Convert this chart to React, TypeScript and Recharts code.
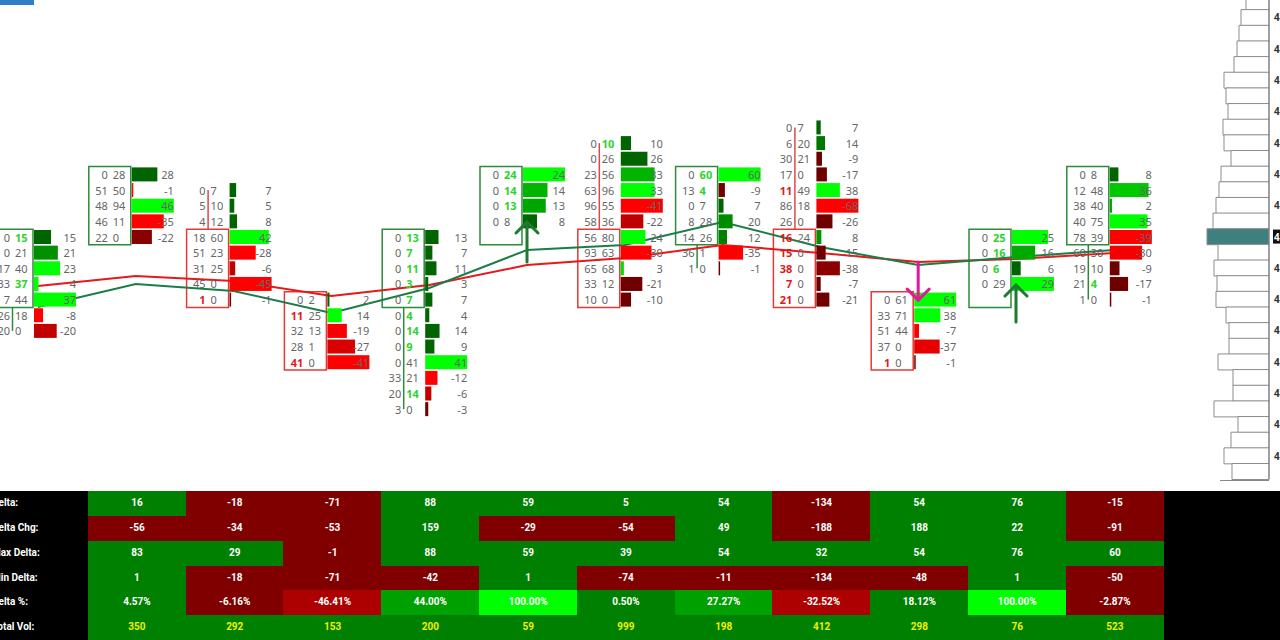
import React from 'react';
import {
  ComposedChart, Line, Scatter, XAxis, YAxis, ReferenceArea, ReferenceLine,
  BarChart, Bar, Cell,
} from 'recharts';

// ---- footprint clusters (one entry per bar, rows listed top to bottom) ----
const clusterTop = [0, -4, -3, 4, 0, -4, -6, -4, -7, 4, 0, -4];
const clusterBids = [
  [0, 0, 17, 33, 7, 26, 20],
  [0, 51, 48, 46, 22],
  [0, 5, 4, 18, 51, 31, 45, 1],
  [0, 11, 32, 28, 41],
  [0, 0, 0, 0, 0, 0, 0, 0, 0, 33, 20, 3],
  [0, 0, 0, 0],
  [0, 0, 23, 63, 96, 58, 56, 93, 65, 33, 10],
  [0, 13, 0, 8, 14, 36, 1],
  [0, 6, 30, 17, 11, 86, 26, 16, 15, 38, 7, 21],
  [0, 33, 51, 37, 1],
  [0, 0, 0, 0],
  [0, 12, 38, 40, 78, 60, 19, 21, 1],
];
const clusterAsks = [
  [15, 21, 40, 37, 44, 18, 0],
  [28, 50, 94, 11, 0],
  [7, 10, 12, 60, 23, 25, 0, 0],
  [2, 25, 13, 1, 0],
  [13, 7, 11, 3, 7, 4, 14, 9, 41, 21, 14, 0],
  [24, 14, 13, 8],
  [10, 26, 56, 96, 55, 36, 80, 63, 68, 12, 0],
  [60, 4, 7, 28, 26, 1, 0],
  [7, 20, 21, 0, 49, 18, 0, 24, 0, 0, 0, 0],
  [61, 71, 44, 0, 0],
  [25, 16, 6, 29],
  [8, 48, 40, 75, 39, 30, 10, 4, 0],
];
// g = ask imbalance, r = bid imbalance
const clusterMarks = [
  'g..g...', '.....', '.......r', '.r..r', 'gggggggg..g.', 'ggg.',
  'g..........', 'gg.....', '....r..rrrrr', '....r', 'ggg.', '.......g.',
];
const boxTop = [0, -4, 0, 4, 0, -4, 0, -4, 0, 4, 0, -4];
const boxUp = [true, true, false, false, true, true, false, true, false, false, true, true];
const wickEnd = [6, null, -3, null, 11, null, -6, 2, -7, null, null, 4];

// ---- overlay lines (price level units) ----
const greenLine = [4.47, 3.0, 3.45, 4.86, 3.26, 0.83, 0.51, -0.96, 0.64, 1.79, 1.28, 0.83];
const redLine = [3.13, 2.49, 2.81, 3.77, 3.07, 1.79, 1.34, 0.51, 1.02, 1.6, 1.41, 1.02];

// ---- signal arrows ----
const arrowCols = [5, 9, 10];
const arrowTip = [-0.96, 4.03, 3.07];
const arrowTail = [1.6, 1.6, 5.43];
const arrowColors = ['#1d7a2e', '#e4189a', '#1d7a2e'];

// ---- volume profile (L-15 .. L15) ----
const profileLevels = [-15, -14, -13, -12, -11, -10, -9, -8, -7, -6, -5, -4, -3, -2, -1, 0,
  1, 2, 3, 4, 5, 6, 7, 8, 9, 10, 11, 12, 13, 14, 15];
const profileVol = [23, 28, 30, 32, 35, 45, 43, 41, 46, 45, 38, 48, 50, 53, 56, 62,
  51, 55, 52, 53, 43, 40, 40, 51, 36, 36, 55, 31, 38, 45, 37];
const priceLabels = ['4216.50', '4216.00', '4215.50', '4215.00', '4214.50', '4214.00', '4213.50',
  '4213.00', '4212.50', '4212.00', '4211.50', '4211.00', '4210.50', '4210.00', '4209.50'];

// ---- stats table ----
const tableLabels = ['Delta:', 'Delta Chg:', 'Max Delta:', 'Min Delta:', 'Delta %:', 'Total Vol:'];
const deltaRow = [16, -18, -71, 88, 59, 5, 54, -134, 54, 76, -15];
const deltaChgRow = [-56, -34, -53, 159, -29, -54, 49, -188, 188, 22, -91];
const maxDeltaRow = [83, 29, -1, 88, 59, 39, 54, 32, 54, 76, 60];
const minDeltaRow = [1, -18, -71, -42, 1, -74, -11, -134, -48, 1, -50];
const deltaPctRow = [4.57, -6.16, -46.41, 44.0, 100.0, 0.5, 27.27, -32.52, 18.12, 100.0, -2.87];
const totalVolRow = [350, 292, 153, 200, 59, 999, 198, 412, 298, 76, 523];

// layout
const CW = 1280, CH = 490;
const COL_W = 97.8, COL0_PX = 38, ROW_PX = 15.65, L0_PX = 237;
const X_MIN = -COL0_PX / COL_W, X_MAX = X_MIN + CW / COL_W;
const Y_MIN = -L0_PX / ROW_PX, Y_MAX = Y_MIN + CH / ROW_PX;
const colPx = (c: number) => ((c - X_MIN) / (X_MAX - X_MIN)) * CW;
const FONT = '"Noto Sans", "Open Sans", Arial, sans-serif';

const cellData = clusterBids.flatMap((bids, c) => {
  const asks = clusterAsks[c];
  const maxD = Math.max(...bids.map((b, i) => Math.abs(asks[i] - b)));
  const maxBid = Math.max(...bids);
  const maxAsk = Math.max(...asks);
  return bids.map((bid, i) => {
    const ask = asks[i];
    const delta = ask - bid;
    return {
      x: c, y: clusterTop[c] + i, bid, ask, delta,
      frac: Math.abs(delta) / maxD,
      side: delta >= 0 ? ask / maxAsk : bid / maxBid,
      mark: clusterMarks[c][i],
    };
  });
});

const lineData = greenLine.map((g, i) => ({ x: i, green: g, red: redLine[i] }));
const arrowData = arrowCols.map((c, i) => ({ x: c, y: arrowTip[i], tail: arrowTail[i], color: arrowColors[i] }));
const profileData = profileLevels.map((lvl, i) => ({ lvl, vol: profileVol[i] }));

const FootCell = (props: any) => {
  const { cx, cy, payload } = props;
  if (cx == null || cy == null) return <g />;
  const { bid, ask, delta, frac, side, mark } = payload;
  const k = Math.max(0, Math.min(1, (side - 0.35) / 0.45));
  const fill = delta >= 0
    ? `rgb(0,${Math.round(100 + 155 * k)},0)`
    : `rgb(${Math.round(110 + 145 * k)},0,0)`;
  const w = Math.max(frac * 42, 1.5);
  return (
    <g fontFamily={FONT} fontSize={11}>
      <text x={cx - 28} y={cy} textAnchor="end" dominantBaseline="central"
        fill={mark === 'r' ? '#e01a1a' : '#666'} fontWeight={mark === 'r' ? 700 : 400}>{bid}</text>
      <text x={cx - 23} y={cy} textAnchor="start" dominantBaseline="central"
        fill={mark === 'g' ? '#2bd42b' : '#666'} fontWeight={mark === 'g' ? 700 : 400}>{ask}</text>
      <rect x={cx - 4} y={cy - 7} width={w} height={14} fill={fill} />
      <text x={cx + 38} y={cy} textAnchor="end" dominantBaseline="central" fill="#666">{delta}</text>
    </g>
  );
};

const ArrowMark = (props: any) => {
  const { cx, cy, payload } = props;
  if (cx == null || cy == null) return <g />;
  const ty = cy + (payload.tail - payload.y) * ROW_PX;
  const dir = ty > cy ? 1 : -1;
  return (
    <g stroke={payload.color} strokeWidth={3} fill="none" strokeLinecap="round">
      <line x1={cx} y1={cy} x2={cx} y2={ty} />
      <polyline points={`${cx - 11},${cy + dir * 11} ${cx},${cy} ${cx + 11},${cy + dir * 11}`} />
    </g>
  );
};

const PriceTick = (props: any) => {
  const { x, y, payload } = props;
  const lvl = payload.value;
  if (lvl % 2 !== 0) return <g />;
  const label = priceLabels[(lvl + 14) / 2];
  if (lvl === 0) {
    return (
      <g>
        <rect x={x + 2} y={y - 7} width={40} height={14} fill="#111" />
        <text x={x + 3} y={y} dominantBaseline="central" fontSize={10} fontWeight={700}
          fill="#fff" fontFamily={FONT}>{label}</text>
      </g>
    );
  }
  return (
    <text x={x + 3} y={y} dominantBaseline="central" fontSize={10} fontWeight={700}
      fill="#333" fontFamily={FONT}>{label}</text>
  );
};

const cellColor = (v: number, row: number) => {
  if (row === 4) {
    if (v >= 100) return '#00ff00';
    if (v >= 25) return '#00a000';
    if (v >= 0) return '#008000';
    if (v <= -25) return '#ad0000';
    return '#800000';
  }
  return v >= 0 ? '#008000' : '#800000';
};

const StatsTable = () => {
  const rows = [deltaRow, deltaChgRow, maxDeltaRow, minDeltaRow, deltaPctRow, totalVolRow];
  const rh = (640 - 491) / 6;
  return (
    <div style={{ position: 'absolute', left: 0, top: 491, width: CW, height: 149, background: '#000',
      fontFamily: '"Liberation Sans Narrow", Roboto, Arial, sans-serif', fontSize: 10, fontWeight: 700 }}>
      {rows.map((vals, r) => (
        <React.Fragment key={r}>
          <div style={{ position: 'absolute', left: -8, top: r * rh, height: rh, lineHeight: `${rh}px`,
            color: '#fff', whiteSpace: 'nowrap' }}>{tableLabels[r]}</div>
          {vals.map((v, i) => {
            const left = colPx(i + 1) - 48;
            return (
              <div key={i} style={{ position: 'absolute', left, top: r * rh, width: COL_W + 0.5, height: rh + 0.5,
                lineHeight: `${rh}px`, textAlign: 'center', background: cellColor(v, r),
                color: r === 5 ? '#f0f000' : '#fff' }}>
                {r === 4 ? `${v.toFixed(2)}%` : v}
              </div>
            );
          })}
        </React.Fragment>
      ))}
    </div>
  );
};

export default function App() {
  return (
    <div style={{ position: 'absolute', left: 0, top: 0, width: CW, height: 640, overflow: 'hidden', background: '#fff' }}>
      <div style={{ position: 'absolute', left: 0, top: 0 }}>
        <ComposedChart width={CW} height={CH} data={lineData} margin={{ top: 0, right: 0, bottom: 0, left: 0 }}>
          <XAxis type="number" dataKey="x" domain={[X_MIN, X_MAX]} allowDataOverflow hide />
          <YAxis type="number" dataKey="y" domain={[Y_MIN, Y_MAX]} allowDataOverflow reversed hide width={0} />
          {boxTop.map((t, c) => (
            <ReferenceArea key={`b${c}`} x1={c - 47 / COL_W} x2={c - 5 / COL_W} y1={t - 0.5} y2={t + 4.5}
              fill="none" fillOpacity={0} stroke={boxUp[c] ? '#2f8a3a' : '#e53935'} strokeWidth={1.5}
              ifOverflow="visible" />
          ))}
          {wickEnd.map((w, c) => {
            if (w == null) return null;
            const from = w > boxTop[c] ? boxTop[c] + 4.5 : boxTop[c] - 0.5;
            const xw = c - 25.5 / COL_W;
            return (
              <ReferenceLine key={`w${c}`} segment={[{ x: xw, y: from }, { x: xw, y: w }]}
                stroke={boxUp[c] ? '#2f8a3a' : '#e04848'} strokeWidth={1.5} ifOverflow="visible" />
            );
          })}
          <Scatter data={cellData} shape={FootCell} isAnimationActive={false} />
          <Line dataKey="red" type="linear" stroke="#e5191b" strokeWidth={2} dot={false} isAnimationActive={false} />
          <Line dataKey="green" type="linear" stroke="#1b7d47" strokeWidth={2} dot={false} isAnimationActive={false} />
          <Scatter data={arrowData} shape={ArrowMark} isAnimationActive={false} />
        </ComposedChart>
      </div>
      <div style={{ position: 'absolute', left: 1169, top: L0_PX - 15.5 * ROW_PX }}>
        <BarChart layout="vertical" width={141} height={31 * ROW_PX} data={profileData}
          margin={{ top: 0, right: 0, bottom: 0, left: 0 }} barCategoryGap={0}>
          <XAxis type="number" domain={[0, 100]} reversed hide />
          <YAxis type="category" dataKey="lvl" orientation="right" width={41} interval={0}
            tickLine={false} tickSize={0} axisLine={{ stroke: '#7a7a7a' }} tick={PriceTick} />
          <Bar dataKey="vol" stroke="#8c8c8c" strokeWidth={1} isAnimationActive={false}>
            {profileData.map((d) => (
              <Cell key={d.lvl} fill={d.lvl === 0 ? '#3f7f7e' : '#fff'} />
            ))}
          </Bar>
        </BarChart>
      </div>
      <div style={{ position: 'absolute', left: 1220, top: 480, width: 49, height: 1, background: '#888' }} />
      <div style={{ position: 'absolute', left: 0, top: 0, width: 34, height: 5, background: '#2f7fc8' }} />
      <StatsTable />
    </div>
  );
}
